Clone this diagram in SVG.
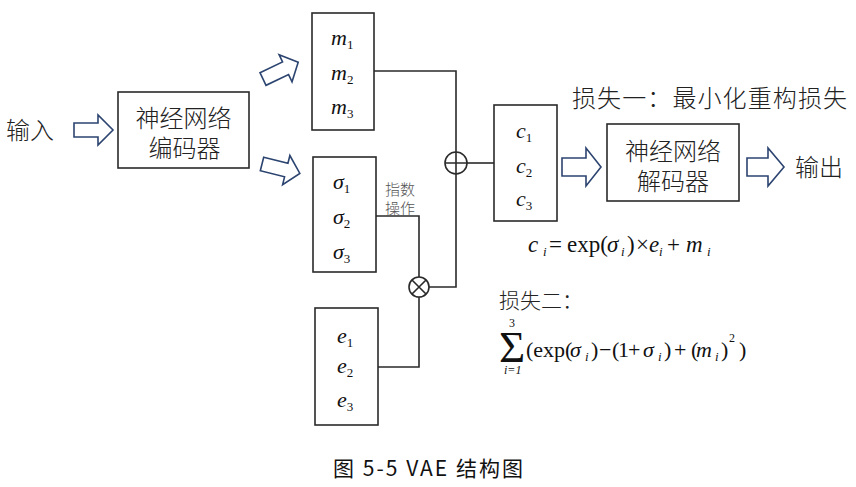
<svg xmlns="http://www.w3.org/2000/svg" width="856" height="487" viewBox="0 0 856 487">
<defs>
<style>
.box{fill:#fff;stroke:#2a2a2a;stroke-width:1.6}
.ln{fill:none;stroke:#2a2a2a;stroke-width:1.6}
.arr{fill:#fff;stroke:#2c4470;stroke-width:1.6;stroke-linejoin:miter}
.cjk{font-family:"Noto Sans CJK SC","Noto Sans",sans-serif;font-weight:300;fill:#222}
.m{font-family:"Liberation Serif",serif;font-style:italic;font-size:22px;fill:#111}
.sub{font-family:"Liberation Serif",serif;font-style:normal;font-size:13px;fill:#111}
.f{font-family:"Liberation Serif",serif;font-size:23px;fill:#111}
.fi{font-family:"Liberation Serif",serif;font-size:23px;font-style:italic;fill:#111}
.g{font-family:"Liberation Serif",serif;font-size:22px;fill:#111}
.gi{font-family:"Liberation Serif",serif;font-size:22px;font-style:italic;fill:#111}
.fs{font-family:"Liberation Serif",serif;font-size:13px;font-style:italic;fill:#111}
.fn{font-family:"Liberation Serif",serif;font-size:12px;fill:#111}
</style>
<polygon id="bigArrow" points="0,-7 25,-7 25,-15 39,0 25,15 25,7 0,7"/>
</defs>
<rect width="856" height="487" fill="#fff"/>

<g id="connectors">
<path class="ln" d="M374,71 H456 V152"/>
<path class="ln" d="M467,163 H494"/>
<path class="ln" d="M456,174 V287 H429"/>
<path class="ln" d="M376,216 H419 V277"/>
<path class="ln" d="M378,367 H419 V297"/>
<polygon class="arr" points="74,123 98,123 98,115 113,130 98,145 98,137 74,137"/>
<use href="#bigArrow" class="arr" transform="translate(263,79) rotate(-25.5)"/>
<use href="#bigArrow" class="arr" transform="translate(262,164) rotate(14)"/>
<polygon class="arr" points="562,158 586,158 586,148 601,167 586,186 586,176 562,176"/>
<polygon class="arr" points="747,158 768,158 768,148 784,167 768,186 768,176 747,176"/>
</g>

<g id="input"><text class="cjk" x="6" y="139" font-size="24">输入</text></g>

<g id="encoder">
<rect class="box" x="118" y="92" width="131" height="76"/>
<text class="cjk" x="183.5" y="127" font-size="24" text-anchor="middle">神经网络</text>
<text class="cjk" x="184.5" y="157" font-size="24" text-anchor="middle">编码器</text>
</g>

<g id="m">
<rect class="box" x="312" y="13" width="62" height="117"/>
<text class="m" x="331" y="45">m<tspan class="sub" dy="4">1</tspan></text>
<text class="m" x="331" y="80">m<tspan class="sub" dy="4">2</tspan></text>
<text class="m" x="331" y="114">m<tspan class="sub" dy="4">3</tspan></text>
</g>

<g id="sigma">
<rect class="box" x="313" y="157" width="63" height="115"/>
<text class="m" x="333" y="189">σ<tspan class="sub" dy="4">1</tspan></text>
<text class="m" x="333" y="224">σ<tspan class="sub" dy="4">2</tspan></text>
<text class="m" x="333" y="259">σ<tspan class="sub" dy="4">3</tspan></text>
</g>

<g id="expLabel">
<text class="cjk" x="385" y="195" font-size="15" style="fill:#555">指数</text>
<text class="cjk" x="385" y="214" font-size="15" style="fill:#555">操作</text>
</g>

<g id="e">
<rect class="box" x="315" y="308" width="63" height="117"/>
<text class="m" x="337" y="343">e<tspan class="sub" dy="4">1</tspan></text>
<text class="m" x="337" y="373">e<tspan class="sub" dy="4">2</tspan></text>
<text class="m" x="337" y="407">e<tspan class="sub" dy="4">3</tspan></text>
</g>

<g id="oplus">
<circle class="ln" cx="456" cy="163" r="11"/>
<path class="ln" d="M445,163 H467 M456,152 V174"/>
</g>

<g id="otimes">
<circle class="ln" cx="419" cy="287" r="10"/>
<path class="ln" d="M412,280 L426,294 M426,280 L412,294"/>
</g>

<g id="c">
<rect class="box" x="494" y="105" width="63" height="116"/>
<text class="m" x="516" y="138">c<tspan class="sub" dy="4">1</tspan></text>
<text class="m" x="516" y="173">c<tspan class="sub" dy="4">2</tspan></text>
<text class="m" x="516" y="206">c<tspan class="sub" dy="4">3</tspan></text>
</g>

<g id="loss1"><text class="cjk" x="572" y="107" font-size="24" textLength="275">损失一：最小化重构损失</text></g>

<g id="decoder">
<rect class="box" x="607" y="124" width="132" height="77"/>
<text class="cjk" x="673" y="160" font-size="24" text-anchor="middle">神经网络</text>
<text class="cjk" x="673" y="190" font-size="24" text-anchor="middle">解码器</text>
</g>

<g id="output"><text class="cjk" x="795" y="176" font-size="24">输出</text></g>

<g id="formula1">
<text class="fi" x="528" y="252">c</text>
<text class="fs" x="543" y="256">i</text>
<text class="f" x="549" y="252">=</text>
<text class="f" x="567" y="252">exp(</text>
<text class="fi" x="607" y="252">σ</text>
<text class="fs" x="621" y="256">i</text>
<text class="f" x="627" y="252">)</text>
<text class="f" x="636" y="252">×</text>
<text class="fi" x="649" y="252">e</text>
<text class="fs" x="659" y="256">i</text>
<text class="f" x="667" y="252">+</text>
<text class="fi" x="686" y="252">m</text>
<text class="fs" x="707" y="256">i</text>
</g>

<g id="loss2">
<text class="cjk" x="499" y="308" font-size="21">损失二：</text>
<text class="g" x="499" y="362" style="font-size:45px">Σ</text>
<text class="fn" x="509" y="327">3</text>
<text class="fs" x="504" y="374" style="font-size:12px">i<tspan class="fn">=1</tspan></text>
<text class="g" x="526" y="357">(exp(</text>
<text class="gi" x="570" y="357">σ</text>
<text class="fs" x="585" y="361">i</text>
<text class="g" x="591" y="357">)</text>
<text class="g" x="599" y="357">−</text>
<text class="g" x="612" y="357">(</text>
<text class="g" x="618" y="357">1</text>
<text class="g" x="628" y="357">+</text>
<text class="gi" x="643" y="357">σ</text>
<text class="fs" x="658" y="361">i</text>
<text class="g" x="664" y="357">)</text>
<text class="g" x="674" y="357">+</text>
<text class="g" x="691" y="357">(</text>
<text class="gi" x="696" y="357">m</text>
<text class="fs" x="715" y="361">i</text>
<text class="g" x="721" y="357">)</text>
<text class="fn" x="729" y="342">2</text>
<text class="g" x="739" y="357">)</text>
</g>

<g id="caption"><text x="333" y="476" font-size="21" textLength="190" style="font-family:'Noto Sans CJK SC','DejaVu Sans Mono',monospace;fill:#111">图 5-5 VAE 结构图</text></g>
</svg>
